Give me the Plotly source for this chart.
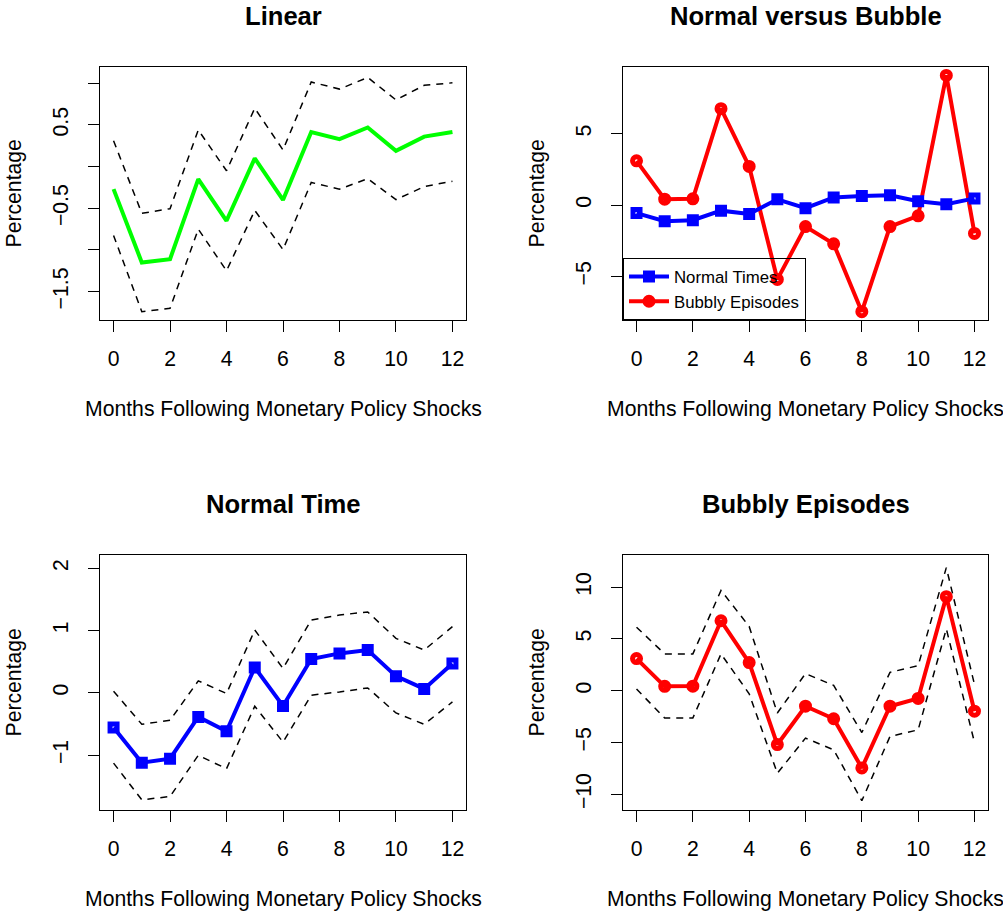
import plotly.graph_objects as go

# ---------------- data ----------------
months = list(range(13))

linear_irf = [-0.27, -1.15, -1.11, -0.15, -0.65, 0.10, -0.40, 0.415, 0.33, 0.47, 0.19, 0.36, 0.415]
linear_upper = [0.31, -0.56, -0.505, 0.44, -0.05, 0.70, 0.20, 1.015, 0.93, 1.07, 0.80, 0.975, 1.005]
linear_lower = [-0.825, -1.74, -1.70, -0.75, -1.25, -0.525, -0.995, -0.19, -0.27, -0.145, -0.395, -0.24, -0.175]

normal_irf = [-0.557, -1.12, -1.056, -0.386, -0.617, 0.409, -0.209, 0.543, 0.634, 0.688, 0.269, 0.064, 0.473]
normal_upper = [0.027, -0.504, -0.44, 0.193, -0.01, 1.01, 0.393, 1.17, 1.25, 1.30, 0.876, 0.688, 1.063]
normal_lower = [-1.127, -1.717, -1.663, -1.003, -1.217, -0.214, -0.789, -0.037, 0.016, 0.08, -0.322, -0.504, -0.145]

bubble_irf = [3.10, 0.42, 0.44, 6.75, 2.71, -5.2, -1.50, -2.71, -7.46, -1.50, -0.75, 9.08, -1.98]
bubble_upper = [6.13, 3.55, 3.55, 9.68, 6.2, -2.16, 1.65, 0.51, -4.04, 1.77, 2.42, 11.88, 0.6]
bubble_lower = [0.16, -2.64, -2.64, 3.55, -0.3, -7.97, -4.58, -5.71, -10.62, -4.42, -3.78, 5.97, -5.0]

titles = ["Linear", "Normal versus Bubble", "Normal Time", "Bubbly Episodes"]
x_title = "Months Following Monetary Policy Shocks"
y_title = "Percentage"
legend_names = ["Normal Times", "Bubbly Episodes"]

x_ticks = [0, 2, 4, 6, 8, 10, 12]
y_ticks = {
    1: ([-1.5, -1, -0.5, 0, 0.5, 1], ["\u22121.5", "", "\u22120.5", "", "0.5", ""]),
    2: ([-5, 0, 5], ["\u22125", "0", "5"]),
    3: ([-1, 0, 1, 2], ["\u22121", "0", "1", "2"]),
    4: ([-10, -5, 0, 5, 10], ["\u221210", "\u22125", "0", "5", "10"]),
}
y_ranges = {1: [-1.84, 1.195], 2: [-8.04, 9.67], 3: [-1.88, 2.214], 4: [-11.52, 13.1]}

# ---------------- layout geometry (pixels) ----------------
W, H = 1003, 911
FONT = "Liberation Sans, Arial, sans-serif"
BASE = 21.2
boxes = {
    1: (100, 466, 67, 320),
    2: (623, 988, 67, 320),
    3: (100, 466, 555, 810),
    4: (623, 988, 555, 810),
}

def px(x):
    return x / W

def py(y):
    return 1 - y / H

fig = go.Figure()

def ax_name(i, kind):
    return kind if i == 1 else f"{kind}{i}"

def dashed(i, vals):
    fig.add_trace(go.Scatter(
        x=months, y=vals, mode="lines",
        line=dict(color="black", width=1.5, dash="7px,6px"),
        xaxis=ax_name(i, "x"), yaxis=ax_name(i, "y"), showlegend=False,
        hoverinfo="skip"))

# Panel 1: Linear
dashed(1, linear_upper)
dashed(1, linear_lower)
fig.add_trace(go.Scatter(x=months, y=linear_irf, mode="lines",
                         line=dict(color="#00FF00", width=4),
                         xaxis="x", yaxis="y", showlegend=False))

# Panel 2: Normal versus Bubble
fig.add_trace(go.Scatter(x=months, y=bubble_irf, mode="lines+markers",
                         name=legend_names[1], legendrank=2,
                         line=dict(color="#FF0000", width=4),
                         marker=dict(symbol="circle-open", size=8, color="#FF0000",
                                     line=dict(width=5, color="#FF0000")),
                         xaxis="x2", yaxis="y2", showlegend=True))
fig.add_trace(go.Scatter(x=months, y=normal_irf, mode="lines+markers",
                         name=legend_names[0], legendrank=1,
                         line=dict(color="#0000FF", width=4),
                         marker=dict(symbol="square-open", size=7, color="#0000FF",
                                     line=dict(width=5, color="#0000FF")),
                         xaxis="x2", yaxis="y2", showlegend=True))

# Panel 3: Normal Time
dashed(3, normal_upper)
dashed(3, normal_lower)
fig.add_trace(go.Scatter(x=months, y=normal_irf, mode="lines+markers",
                         line=dict(color="#0000FF", width=4),
                         marker=dict(symbol="square-open", size=7, color="#0000FF",
                                     line=dict(width=5, color="#0000FF")),
                         xaxis="x3", yaxis="y3", showlegend=False))

# Panel 4: Bubbly Episodes
dashed(4, bubble_upper)
dashed(4, bubble_lower)
fig.add_trace(go.Scatter(x=months, y=bubble_irf, mode="lines+markers",
                         line=dict(color="#FF0000", width=4),
                         marker=dict(symbol="circle-open", size=8, color="#FF0000",
                                     line=dict(width=5, color="#FF0000")),
                         xaxis="x4", yaxis="y4", showlegend=False))

layout = dict(
    width=W, height=H, margin=dict(l=0, r=0, t=0, b=0),
    paper_bgcolor="white", plot_bgcolor="white",
    font=dict(family=FONT, size=BASE, color="black"),
    showlegend=True,
    legend=dict(x=px(boxes[2][0]), y=py(boxes[2][3]), xanchor="left", yanchor="bottom",
                bgcolor="rgba(0,0,0,0)", bordercolor="black", borderwidth=1,
                font=dict(size=16.8, color="black", family=FONT),
                tracegroupgap=0, itemwidth=40),
)

annotations = []
for i, (x0, x1, y0, y1) in boxes.items():
    xa = "xaxis" if i == 1 else f"xaxis{i}"
    ya = "yaxis" if i == 1 else f"yaxis{i}"
    layout[xa] = dict(
        domain=[px(x0), px(x1)], range=[-0.48, 12.48], anchor=ax_name(i, "y"),
        showline=True, mirror=True, linecolor="black", linewidth=1,
        showgrid=False, zeroline=False,
        ticks="outside", ticklen=11, tickwidth=1, tickcolor="black",
        tickvals=x_ticks, ticktext=[str(t) for t in x_ticks],
        tickfont=dict(size=BASE, color="black", family=FONT),
        ticklabelstandoff=9,
    )
    tv, tt = y_ticks[i]
    layout[ya] = dict(
        domain=[py(y1), py(y0)], range=y_ranges[i], anchor=ax_name(i, "x"),
        showline=True, mirror=True, linecolor="black", linewidth=1,
        showgrid=False, zeroline=False,
        ticks="outside", ticklen=11, tickwidth=1, tickcolor="black",
        tickvals=tv, ticktext=tt, tickangle=-90,
        tickfont=dict(size=BASE, color="black", family=FONT),
        ticklabelstandoff=12,
    )
    cx = (x0 + x1) / 2
    cy = (y0 + y1) / 2
    # panel title
    annotations.append(dict(text=f"<b>{titles[i-1]}</b>", x=px(cx), y=py(y0 - 51),
                            xref="paper", yref="paper", xanchor="center", yanchor="middle",
                            showarrow=False, font=dict(size=25.6, color="black", family=FONT)))
    # x axis title
    annotations.append(dict(text=x_title, x=px(cx), y=py(y1 + 89),
                            xref="paper", yref="paper", xanchor="center", yanchor="middle",
                            showarrow=False, font=dict(size=BASE, color="black", family=FONT)))
    # y axis title
    annotations.append(dict(text=y_title, x=px(x0 - 87), y=py(cy), textangle=-90,
                            xref="paper", yref="paper", xanchor="center", yanchor="middle",
                            showarrow=False, font=dict(size=BASE, color="black", family=FONT)))

layout["annotations"] = annotations
fig.update_layout(**layout)

fig.write_html("out.html")
